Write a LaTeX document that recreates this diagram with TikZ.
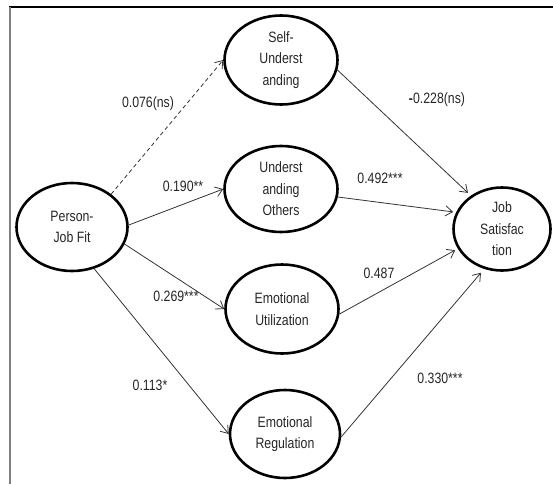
\documentclass[tikz,border=0pt]{standalone}
\usepackage{fontspec}
\setmainfont[FakeStretch=0.82]{Liberation Sans}
\usetikzlibrary{shapes.geometric,arrows.meta}
\begin{document}
\begin{tikzpicture}[x=1pt,y=-1pt,
  latent/.style={ellipse,draw=black,line width=2.6pt,inner sep=0pt,align=center,
    font=\fontsize{15}{21.5}\selectfont,text=black!85},
  pathline/.style={draw=black!80,line width=0.8pt,
    -{Straight Barb[length=7pt,width=10pt,line width=0.8pt]}},
  coef/.style={font=\fontsize{15}{18}\selectfont,text=black!85,inner sep=0pt}]
\useasboundingbox (0,0) rectangle (553,484);
\draw[line width=1.5pt] (9,7) -- (553,7);
\draw[black!50,line width=2pt] (9.5,7) -- (9.5,484);

\node[latent,minimum width=113pt,minimum height=89pt] (su) at (281,60) {Self-\\Underst\\anding};
\node[latent,minimum width=113pt,minimum height=86pt] (uo) at (281,189) {Underst\\anding\\Others};
\node[latent,minimum width=113pt,minimum height=89pt] (eu) at (282,309) {Emotional\\Utilization};
\node[latent,minimum width=110pt,minimum height=88pt] (er) at (285,434) {Emotional\\Regulation};
\node[latent,minimum width=111pt,minimum height=88pt] (pjf) at (72,227) {Person-\\Job Fit};
\node[latent,minimum width=97pt,minimum height=83pt] (js) at (502,229) {Job\\Satisfac\\tion};

\draw[pathline,dash pattern=on 4pt off 3pt] (pjf.40) -- (su.west);
\draw[pathline] (pjf.2) -- (uo.west);
\draw[pathline] (pjf.-18) -- (eu.west);
\draw[pathline] (pjf.-62) -- (er.west);
\draw[pathline,shorten >=4pt] (su.-10) -- (js.133);
\draw[pathline,shorten >=3pt] (uo.-8) -- (js.160);
\draw[pathline,shorten >=3pt] (eu.-5) -- (js.204);
\draw[pathline,shorten >=5pt] (er.-3) -- (js.246);

\node[coef] (l1) at (148,104) {0.076(ns)};
\node[coef] (l2) at (437,100) {{\bfseries -}0.228(ns)};
\node[coef] (l3) at (183,186) {0.190**};
\node[coef] (l4) at (380,178) {0.492***};
\node[coef] (l5) at (176,296) {0.269***};
\node[coef] (l6) at (379,273) {0.487};
\node[coef] (l7) at (150,385) {0.113*};
\node[coef] (l8) at (440,378) {0.330***};
\end{tikzpicture}
\end{document}
